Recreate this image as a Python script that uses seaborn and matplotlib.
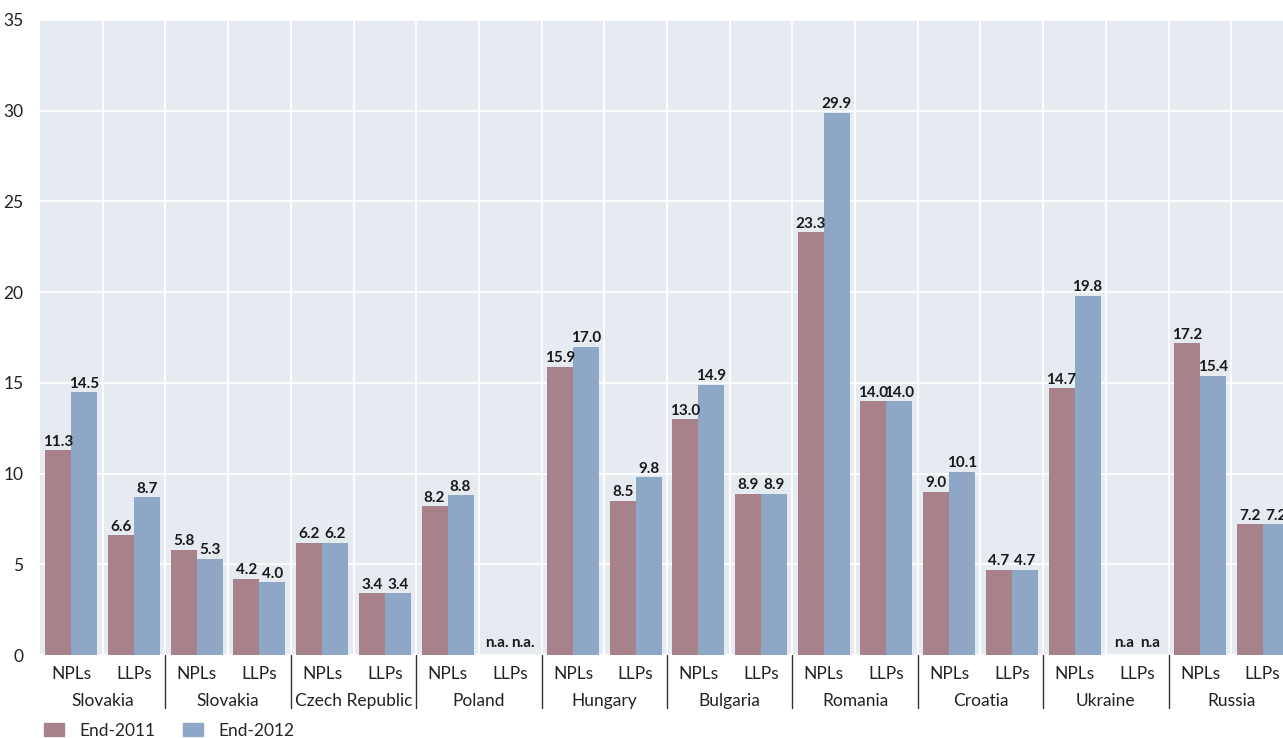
import numpy as np
import pandas as pd
import matplotlib
matplotlib.use("Agg")
import matplotlib.pyplot as plt
import matplotlib.transforms as mtransforms
import seaborn as sns

# 数据
countries = ["Slovakia", "Slovakia", "Czech Republic", "Poland", "Hungary",
             "Bulgaria", "Romania", "Croatia", "Ukraine", "Russia"]
measures = ["NPLs", "LLPs"]
end_2011 = [11.3, 6.6, 5.8, 4.2, 6.2, 3.4, 8.2, np.nan, 15.9, 8.5,
            13.0, 8.9, 23.3, 14.0, 9.0, 4.7, 14.7, np.nan, 17.2, 7.2]
end_2012 = [14.5, 8.7, 5.3, 4.0, 6.2, 3.4, 8.8, np.nan, 17.0, 9.8,
            14.9, 8.9, 29.9, 14.0, 10.1, 4.7, 19.8, np.nan, 15.4, 7.2]
na_labels = {7: "n.a.", 17: "n.a"}
series = ["End-2011", "End-2012"]

slots = [f"{c}|{m}|{i}" for i, (c, m) in enumerate(
    [(c, m) for c in countries for m in measures])]
df = pd.DataFrame({
    "slot": slots * 2,
    "value": end_2011 + end_2012,
    "series": [series[0]] * len(slots) + [series[1]] * len(slots),
})

sns.set_theme(style="darkgrid")
plt.rcParams["font.family"] = ["Lato", "DejaVu Sans"]

fig = plt.figure(figsize=(12.83, 7.38), dpi=100)
ax = fig.add_axes([40 / 1283, 83 / 738, 1254 / 1283, 635 / 738])
ax.set_facecolor("#E6EAF1")

colors = ["#A8828A", "#8FA7C6"]
sns.barplot(data=df, x="slot", y="value", hue="series", order=slots,
            palette=colors, width=0.83, ax=ax, legend=False, saturation=1,
            linewidth=0)

# 数值标签
for cont in ax.containers:
    labels = ["" if np.isnan(v) else f"{v:.1f}" for v in cont.datavalues]
    ax.bar_label(cont, labels=labels, fontsize=11, fontweight="bold",
                 color="#1a1a1a", padding=1)

bw = 0.83 / 2
for idx, txt in na_labels.items():
    for k in (-1, 1):
        ax.text(idx + k * bw / 2, 0.3, txt, ha="center", va="bottom",
                fontsize=11, fontweight="bold", color="#1a1a1a")

ax.set_ylim(0, 35)
ax.set_xlim(-0.5, len(slots) - 0.5)
ax.set_yticks(range(0, 36, 5))
ax.tick_params(axis="y", labelsize=12.5, colors="#222222", length=0, pad=12)
ax.set_xticks(range(len(slots)))
ax.set_xticklabels([m for c in countries for m in measures])
ax.tick_params(axis="x", labelsize=12.5, colors="#222222", length=0, pad=8)
ax.set_xticks(np.arange(0.5, len(slots) - 1, 1.0), minor=True)
ax.grid(False)
ax.grid(True, axis="y", color="white", lw=1.3)
ax.grid(True, axis="x", which="minor", color="white", lw=1.3)
ax.set_axisbelow(True)
ax.set_xlabel("")
ax.set_ylabel("")
for s in ax.spines.values():
    s.set_visible(False)

trans = mtransforms.blended_transform_factory(ax.transData, ax.transAxes)
for g, c in enumerate(countries):
    ax.text(2 * g + 0.5, -0.073, c, transform=trans, ha="center", va="center",
            fontsize=12.5, color="#222222")
    if g > 0:
        ax.plot([2 * g - 0.5] * 2, [0, -0.084], transform=trans, color="#333333",
                lw=1, clip_on=False)

handles = [plt.Rectangle((0, 0), 1, 1, color=col) for col in colors]
fig.legend(handles, series, loc="lower left", bbox_to_anchor=(0.022, -0.022),
           ncol=2, frameon=False, fontsize=12.5, handlelength=1.15,
           handleheight=0.75, columnspacing=1.6, handletextpad=0.9)

fig.savefig("out.png", dpi=100)
